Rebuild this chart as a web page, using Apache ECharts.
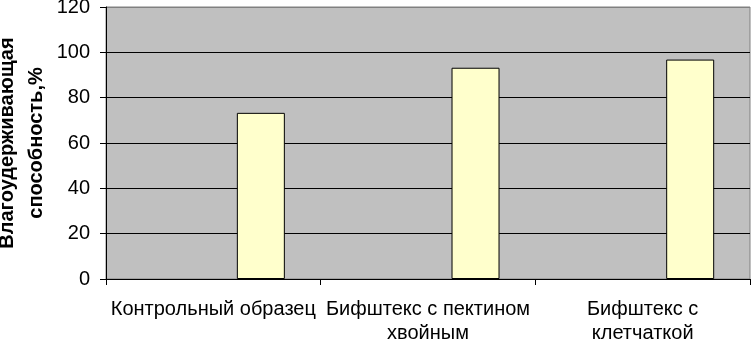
<!DOCTYPE html>
<html><head><meta charset="utf-8">
<script src="https://cdn.jsdelivr.net/npm/echarts@6/dist/echarts.min.js"></script>
<style>html,body{margin:0;padding:0;background:#fff}#c{width:752px;height:343px}</style>
</head><body><div id="c"></div>
<script>
const categories = ["Контрольный образец", "Бифштекс с пектином\nхвойным", "Бифштекс с\nклетчаткой"];
const values = [73.3, 93.2, 96.8];
const emptySeries = [null, null, null];
const yTitle = "Влагоудерживающая\nспособность,%";

const chart = echarts.init(document.getElementById('c'), null, {renderer: 'canvas'});
chart.setOption({
  animation: false,
  backgroundColor: '#ffffff',
  grid: {left: 106, right: 2, top: 7, bottom: 64, containLabel: false, outerBoundsMode: 'none',
         show: true, backgroundColor: '#C0C0C0', borderColor: '#808080', borderWidth: 1},
  xAxis: {
    type: 'category', data: categories,
    axisLine: {show: true, lineStyle: {color: '#000', width: 1}},
    axisTick: {show: true, length: 6, lineStyle: {color: '#000'}},
    axisLabel: {color: '#000', fontFamily: 'Liberation Sans, Arial', fontSize: 20, margin: 18, lineHeight: 24, interval: 0}
  },
  yAxis: {
    type: 'value', min: 0, max: 120, interval: 20,
    name: yTitle, nameLocation: 'middle', nameGap: 55, nameRotate: 90, nameMoveOverlap: false,
    nameTextStyle: {color: '#000', fontFamily: 'Liberation Sans, Arial', fontSize: 20, fontWeight: 'bold', lineHeight: 29},
    axisLine: {show: true, lineStyle: {color: '#000', width: 1}},
    axisTick: {show: true, length: 6, lineStyle: {color: '#000'}},
    axisLabel: {color: '#000', fontFamily: 'Liberation Sans, Arial', fontSize: 20, margin: 16},
    splitLine: {show: true, lineStyle: {color: ['#000', '#000', '#000', '#000', '#000', '#000', '#808080'], width: 1}}
  },
  series: [
    {type: 'bar', data: emptySeries, barWidth: 48, barGap: '98%'},
    {type: 'bar', data: values, barWidth: 48, barGap: '98%',
     itemStyle: {color: '#FFFFCC', borderColor: '#000', borderWidth: 1}}
  ]
});
</script></body></html>
